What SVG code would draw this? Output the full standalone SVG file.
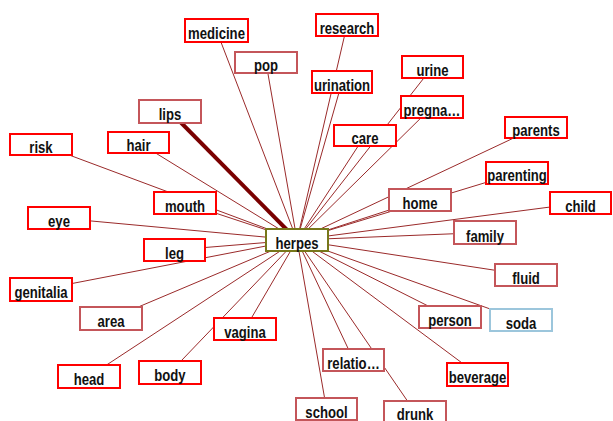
<svg xmlns="http://www.w3.org/2000/svg" width="613" height="421" viewBox="0 0 613 421">
<style>
.e line{stroke:#9a2a2a;stroke-width:1}
.e line.t{stroke:#7a0000;stroke-width:4}
rect{fill:#fff;stroke-width:2}
.b rect{stroke:#ff0000}
.m rect{stroke:#c4565a}
.h rect{stroke:#77771a}
.s rect{stroke:#9cc6dc}
text{font-family:"Liberation Sans",Arial,sans-serif;font-weight:bold;font-size:16px;fill:#111;text-anchor:middle}
</style>
<rect x="0" y="0" width="613" height="421" fill="#fff" stroke="none"/>
<g class="e" id="connectors">
<line x1="216.5" y1="30.5" x2="297" y2="240"/>
<line x1="266" y1="62.5" x2="297" y2="240"/>
<line x1="347" y1="25" x2="297" y2="240"/>
<line x1="432.5" y1="67" x2="297" y2="240"/>
<line x1="342" y1="82" x2="297" y2="240"/>
<line x1="432" y1="107" x2="297" y2="240"/>
<line x1="536" y1="127.5" x2="297" y2="240"/>
<line x1="365" y1="135.5" x2="297" y2="240"/>
<line x1="41" y1="144.5" x2="297" y2="240"/>
<line x1="138.5" y1="142.5" x2="297" y2="240"/>
<line x1="185" y1="203" x2="297" y2="240"/>
<line x1="59" y1="218" x2="297" y2="240"/>
<line x1="174.5" y1="250" x2="297" y2="240"/>
<line x1="41" y1="289.5" x2="297" y2="240"/>
<line x1="111" y1="318.5" x2="297" y2="240"/>
<line x1="245" y1="329" x2="297" y2="240"/>
<line x1="89" y1="376.5" x2="297" y2="240"/>
<line x1="170" y1="372.5" x2="297" y2="240"/>
<line x1="326.5" y1="409" x2="297" y2="240"/>
<line x1="353.5" y1="360" x2="297" y2="240"/>
<line x1="415" y1="412" x2="297" y2="240"/>
<line x1="477.5" y1="374.5" x2="297" y2="240"/>
<line x1="450" y1="317" x2="297" y2="240"/>
<line x1="521" y1="320" x2="297" y2="240"/>
<line x1="526" y1="275" x2="297" y2="240"/>
<line x1="420" y1="200" x2="297" y2="240"/>
<line x1="517" y1="173" x2="297" y2="240"/>
<line x1="581" y1="203" x2="297" y2="240"/>
<line x1="485" y1="232.5" x2="297" y2="240"/>
<line class="t" x1="170" y1="111.5" x2="297" y2="240"/>
</g>
<g id="medicine" class="b"><rect x="185" y="19" width="63" height="23"/><text transform="translate(216.5,38.5) scale(0.82,1)">medicine</text></g>
<g id="pop" class="m"><rect x="235" y="52" width="62" height="21"/><text transform="translate(266,71) scale(0.82,1)">pop</text></g>
<g id="lips" class="m"><rect x="139" y="100" width="62" height="23"/><text transform="translate(170,120) scale(0.82,1)">lips</text></g>
<g id="research" class="b"><rect x="316" y="14" width="62" height="22"/><text transform="translate(347,33.5) scale(0.82,1)">research</text></g>
<g id="urine" class="b"><rect x="402" y="56" width="61" height="22"/><text transform="translate(432.5,75.5) scale(0.82,1)">urine</text></g>
<g id="urination" class="b"><rect x="312" y="71" width="60" height="22"/><text transform="translate(342,90.5) scale(0.82,1)">urination</text></g>
<g id="pregna" class="b"><rect x="401" y="96" width="62" height="22"/><text transform="translate(432,115.5) scale(0.82,1)">pregna…</text></g>
<g id="parents" class="b"><rect x="505" y="117" width="62" height="21"/><text transform="translate(536,136) scale(0.82,1)">parents</text></g>
<g id="care" class="b"><rect x="334" y="125" width="62" height="21"/><text transform="translate(365,144) scale(0.82,1)">care</text></g>
<g id="risk" class="b"><rect x="10" y="134" width="62" height="21"/><text transform="translate(41,153) scale(0.82,1)">risk</text></g>
<g id="hair" class="b"><rect x="108" y="132" width="61" height="21"/><text transform="translate(138.5,151) scale(0.82,1)">hair</text></g>
<g id="mouth" class="b"><rect x="154" y="192" width="62" height="22"/><text transform="translate(185,211.5) scale(0.82,1)">mouth</text></g>
<g id="eye" class="b"><rect x="28" y="207" width="62" height="22"/><text transform="translate(59,226.5) scale(0.82,1)">eye</text></g>
<g id="leg" class="b"><rect x="144" y="239" width="61" height="22"/><text transform="translate(174.5,258.5) scale(0.82,1)">leg</text></g>
<g id="herpes" class="h"><rect x="266" y="229" width="62" height="22"/><text transform="translate(297,249) scale(0.82,1)">herpes</text></g>
<g id="genitalia" class="b"><rect x="10" y="278" width="62" height="23"/><text transform="translate(41,298) scale(0.82,1)">genitalia</text></g>
<g id="area" class="m"><rect x="80" y="307" width="62" height="23"/><text transform="translate(111,327) scale(0.82,1)">area</text></g>
<g id="vagina" class="b"><rect x="214" y="318" width="62" height="22"/><text transform="translate(245,337.5) scale(0.82,1)">vagina</text></g>
<g id="head" class="b"><rect x="58" y="365" width="62" height="23"/><text transform="translate(89,385) scale(0.82,1)">head</text></g>
<g id="body" class="b"><rect x="139" y="361" width="62" height="23"/><text transform="translate(170,381) scale(0.82,1)">body</text></g>
<g id="school" class="m"><rect x="296" y="398" width="61" height="22"/><text transform="translate(326.5,417.5) scale(0.82,1)">school</text></g>
<g id="relatio" class="m"><rect x="323" y="349" width="61" height="22"/><text transform="translate(353.5,368.5) scale(0.82,1)">relatio…</text></g>
<g id="drunk" class="m"><rect x="384" y="401" width="62" height="22"/><text transform="translate(415,419.5) scale(0.82,1)">drunk</text></g>
<g id="beverage" class="b"><rect x="447" y="363" width="61" height="23"/><text transform="translate(477.5,383) scale(0.82,1)">beverage</text></g>
<g id="person" class="m"><rect x="419" y="306" width="62" height="22"/><text transform="translate(450,325.5) scale(0.82,1)">person</text></g>
<g id="soda" class="s"><rect x="490" y="309" width="62" height="22"/><text transform="translate(521,328.5) scale(0.82,1)">soda</text></g>
<g id="fluid" class="m"><rect x="495" y="264" width="62" height="22"/><text transform="translate(526,283.5) scale(0.82,1)">fluid</text></g>
<g id="home" class="m"><rect x="389" y="189" width="62" height="22"/><text transform="translate(420,208.5) scale(0.82,1)">home</text></g>
<g id="parenting" class="b"><rect x="486" y="162" width="62" height="22"/><text transform="translate(517,181) scale(0.82,1)">parenting</text></g>
<g id="child" class="b"><rect x="550" y="192" width="61" height="22"/><text transform="translate(580.5,211.5) scale(0.82,1)">child</text></g>
<g id="family" class="m"><rect x="454" y="221" width="62" height="23"/><text transform="translate(485,241.5) scale(0.82,1)">family</text></g>
</svg>
